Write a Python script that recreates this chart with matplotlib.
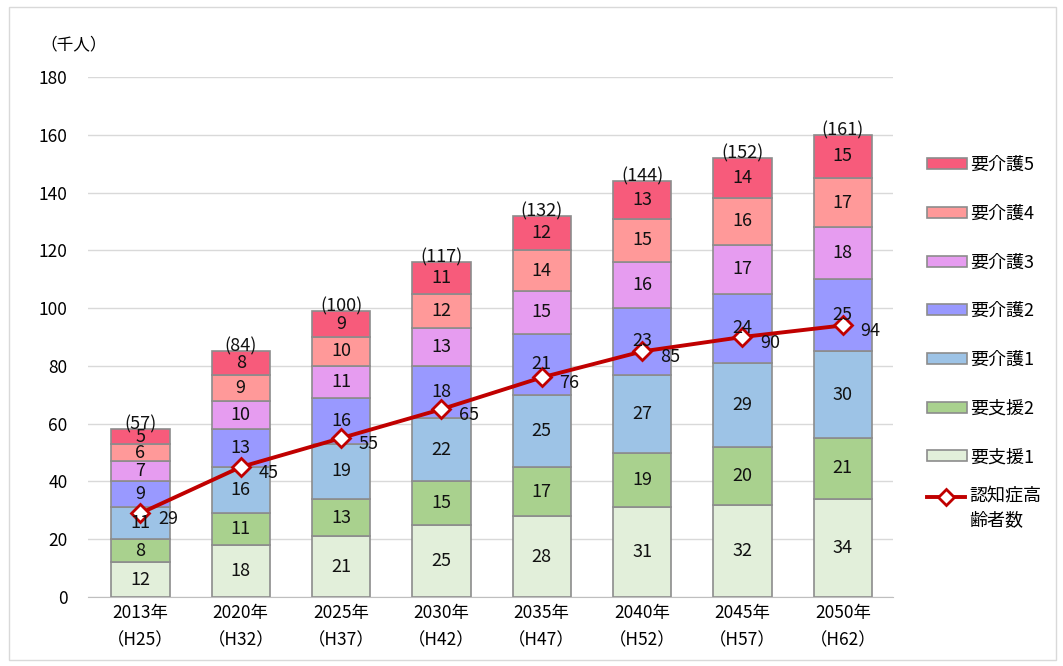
import numpy as np
import matplotlib
matplotlib.use('Agg')
import matplotlib.pyplot as plt
from matplotlib.patches import Patch, Rectangle
from matplotlib.lines import Line2D

plt.rcParams['font.family'] = ['Noto Sans CJK JP', 'DejaVu Sans']

years = ['2013年\n（H25）', '2020年\n（H32）', '2025年\n（H37）', '2030年\n（H42）',
         '2035年\n（H47）', '2040年\n（H52）', '2045年\n（H57）', '2050年\n（H62）']
shien1 = [12, 18, 21, 25, 28, 31, 32, 34]
shien2 = [8, 11, 13, 15, 17, 19, 20, 21]
kaigo1 = [11, 16, 19, 22, 25, 27, 29, 30]
kaigo2 = [9, 13, 16, 18, 21, 23, 24, 25]
kaigo3 = [7, 10, 11, 13, 15, 16, 17, 18]
kaigo4 = [6, 9, 10, 12, 14, 15, 16, 17]
kaigo5 = [5, 8, 9, 11, 12, 13, 14, 15]
totals = [57, 84, 100, 117, 132, 144, 152, 161]
dementia = [29, 45, 55, 65, 76, 85, 90, 94]

series = [
    ('要支援1', shien1, '#E2EFDA'),
    ('要支援2', shien2, '#A9D18E'),
    ('要介護1', kaigo1, '#9DC3E6'),
    ('要介護2', kaigo2, '#9999FF'),
    ('要介護3', kaigo3, '#E69CF0'),
    ('要介護4', kaigo4, '#FF9999'),
    ('要介護5', kaigo5, '#F75B7B'),
]
line_label = '認知症高\n齢者数'

fig = plt.figure(figsize=(10.63, 6.66), dpi=100)
ax = fig.add_axes([0.083, 0.1036, 0.757, 0.7808])

x = np.arange(len(years))
bottom = np.zeros(len(years))
for name, vals, col in series:
    ax.bar(x, vals, 0.58, bottom=bottom, color=col, edgecolor='#8C8C8C',
           linewidth=1.2, zorder=2)
    for xi, b, v in zip(x, bottom, vals):
        ax.text(xi, b + v / 2, str(v), ha='center', va='center', fontsize=13,
                color='#111111', zorder=5)
    bottom = bottom + np.array(vals)

for xi, top, t in zip(x, bottom, totals):
    ax.text(xi, top - 1.5, f'({t})', ha='center', va='bottom', fontsize=13,
            color='#111111', zorder=5)

ax.plot(x, dementia, color='#C00000', linewidth=2.8, marker='D', markersize=9.5,
        markerfacecolor='white', markeredgecolor='#C00000', markeredgewidth=2, zorder=4)
for xi, v in zip(x, dementia):
    ax.annotate(str(v), (xi, v), xytext=(20, -4), textcoords='offset points',
                ha='center', va='center', fontsize=13, color='#111111', zorder=6)

ax.set_xlim(-0.52, 7.5)
ax.set_ylim(0, 180)
ax.set_yticks(range(0, 181, 20))
ax.set_xticks(x)
ax.set_xticklabels(years, fontsize=12.5, linespacing=1.65)
ax.tick_params(axis='y', labelsize=12.5, length=0, pad=15)
ax.tick_params(axis='x', length=0, pad=5)
ax.yaxis.grid(True, color='#D9D9D9', linewidth=1)
ax.set_axisbelow(True)
for s in ['top', 'right', 'left']:
    ax.spines[s].set_visible(False)
ax.spines['bottom'].set_color('#BFBFBF')

fig.text(0.038, 0.932, '（千人）', fontsize=12, ha='left', va='center')

# legend for the bar segments
handles = [Patch(facecolor=col, edgecolor='#8C8C8C', linewidth=1.2, label=name)
           for name, vals, col in series[::-1]]
fig.legend(handles=handles, loc='upper left', bbox_to_anchor=(0.857, 0.790),
           frameon=False, fontsize=13, labelspacing=1.7, handlelength=2.2,
           handleheight=0.55, handletextpad=0.2)

# legend entry for the line, handle aligned with the first text line
ly = 1 - 497 / 666
fig.add_artist(Line2D([927 / 1063, 946 / 1063, 965 / 1063], [ly, ly, ly],
                      transform=fig.transFigure, color='#C00000', linewidth=2.8,
                      marker='D', markevery=[1], markersize=8, markerfacecolor='white',
                      markeredgecolor='#C00000', markeredgewidth=2))
fig.text(969 / 1063, ly + 0.016, line_label, fontsize=13, ha='left', va='top',
         linespacing=1.45)

fig.patches.append(Rectangle((0.008, 0.009), 0.985, 0.98, transform=fig.transFigure,
                             fill=False, edgecolor='#D9D9D9', linewidth=1))

fig.savefig('out.png', dpi=100)
